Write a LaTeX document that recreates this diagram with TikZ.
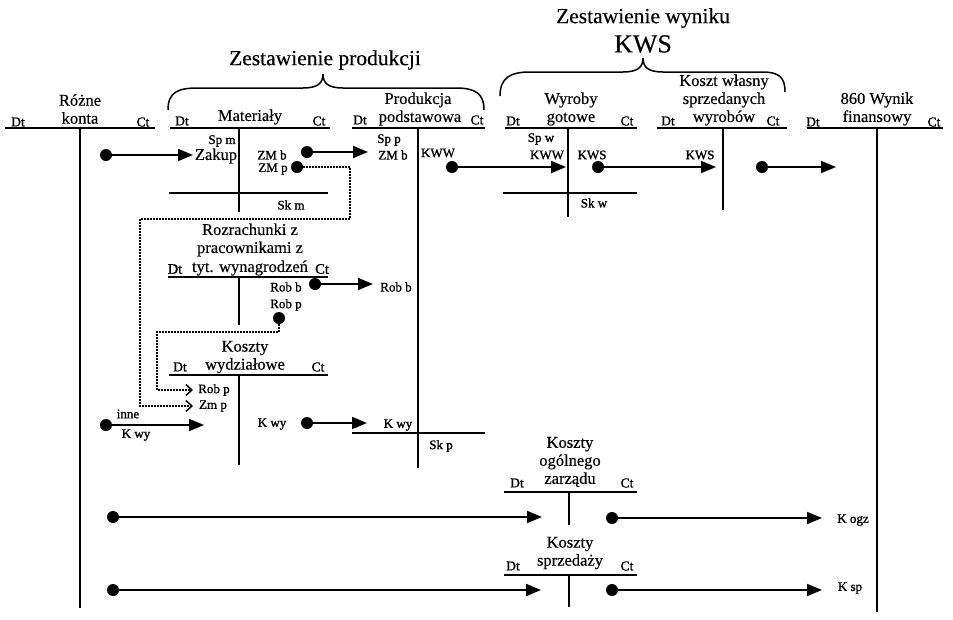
\documentclass[tikz,border=0pt]{standalone}
\usepackage{fontspec}
\setmainfont{Liberation Serif}[FakeBold=0.3]
\newfontfamily\lblfont{Liberation Serif}[FakeBold=1.2]
\usetikzlibrary{arrows.meta}
\begin{document}
\begin{tikzpicture}[x=1pt,y=-1pt,
  tline/.style={line width=2.4pt},
  skline/.style={line width=1.4pt},
  flow/.style={line width=1.8pt,-{Triangle[length=15pt,width=12pt]}},
  dflow/.style={line width=1.5pt,dash pattern=on 1.5pt off 1.5pt,
    -{Straight Barb[length=6pt,width=11pt,line width=1.5pt]}},
  dot/.style={circle,fill,inner sep=0pt,minimum size=12pt},
  dc/.style={font=\lblfont\fontsize{13.5}{14}\selectfont,inner sep=0pt},
  sm/.style={font=\lblfont\fontsize{13}{14}\selectfont,inner sep=0pt},
  md/.style={font=\fontsize{16.5}{18}\selectfont,inner sep=0pt,align=center},
  lg/.style={font=\fontsize{21.5}{26}\selectfont,inner sep=0pt,align=center},
  brace/.style={line width=1.5pt}
]
\useasboundingbox (0,0) rectangle (953,619);

% ---------- group headings and braces ----------
\node[lg] (zprod) at (325,60) {Zestawienie produkcji};
\draw[brace] (168,110) .. controls (168,92) and (178,88) .. (198,88)
  -- (303,88) .. controls (318,88) and (323,83) .. (323,74)
  .. controls (323,83) and (328,88) .. (343,88)
  -- (456,88) .. controls (476,88) and (484,94) .. (484,110);

\node[lg] (zwyn) at (643,18) {Zestawienie wyniku};
\node[font=\fontsize{26}{28}\selectfont,inner sep=0pt] (kwshead) at (643,44) {KWS};
\draw[brace] (500,96) .. controls (500,78) and (510,72) .. (530,72)
  -- (623,72) .. controls (638,72) and (643,67) .. (643,58)
  .. controls (643,67) and (648,72) .. (663,72)
  -- (762,72) .. controls (780,72) and (785,78) .. (785,92);

% ---------- T-accounts ----------
% Rozne konta
\draw[tline] (5,128) -- (155,128);
\draw[tline] (80,128) -- (80,608);
\node[md] (rk) at (80,109) {Różne\\konta};
\node[dc] at (18,122) {Dt};
\node[dc] at (143,122) {Ct};

% Materialy
\draw[tline] (170,128) -- (330,128);
\draw[tline] (239,128) -- (239,212);
\draw[skline] (169,193) -- (328,193);
\node[md] (mat) at (250,117) {Materiały};
\node[dc] at (182,121) {Dt};
\node[dc] at (319,121) {Ct};
\node[sm] at (222,141) {Sp m};
\node[md] at (216,156) {Zakup};
\node[sm] at (272,155) {ZM b};
\node[sm] at (273,169) {ZM p};
\node[sm] at (291,205) {Sk m};

% Produkcja podstawowa
\draw[tline] (352,128) -- (485,128);
\draw[tline] (418,128) -- (418,468);
\draw[skline] (352,433) -- (485,433);
\node[md] (prod) at (418,100) {Produkcja};
\node[md] at (420,118) {podstawowa};
\node[dc] at (360,120) {Dt};
\node[dc] at (477,120) {Ct};
\node[sm] at (389,140) {Sp p};
\node[sm] at (393,155) {ZM b};
\node[sm] at (438,153) {KWW};
\node[sm] at (398,425) {K wy};
\node[sm] at (441,446) {Sk p};

% Wyroby gotowe
\draw[tline] (505,128) -- (637,128);
\draw[tline] (568,128) -- (568,217);
\draw[skline] (503,193) -- (637,193);
\node[md] (wyr) at (571,109) {Wyroby\\gotowe};
\node[dc] at (513,121) {Dt};
\node[dc] at (627,121) {Ct};
\node[sm] at (541,139) {Sp w};
\node[sm] at (547,155) {KWW};
\node[sm] at (592,155) {KWS};
\node[sm] at (594,203) {Sk w};

% Koszt wlasny sprzedanych wyrobow
\draw[tline] (657,128) -- (787,128);
\draw[tline] (723,128) -- (723,210);
\node[md] (kws) at (724,100) {Koszt własny\\sprzedanych\\wyrobów};
\node[dc] at (668,121) {Dt};
\node[dc] at (773,121) {Ct};
\node[sm] at (700,155) {KWS};

% 860 Wynik finansowy
\draw[tline] (807,128) -- (943,128);
\draw[tline] (877,128) -- (877,612);
\node[md] (wf) at (877,109) {860 Wynik\\finansowy};
\node[dc] at (813,122) {Dt};
\node[dc] at (934,122) {Ct};
\node[sm] at (853,520) {K ogz};
\node[sm] at (850,588) {K sp};

% Rozrachunki z pracownikami
\draw[tline] (168,277) -- (328,277);
\draw[tline] (239,277) -- (239,325);
\node[md] (rozr) at (250,240) {Rozrachunki z\\pracownikami z};
\node[md] at (250,268) {tyt. wynagrodzeń};
\node[dc,font=\lblfont\fontsize{14.5}{15}\selectfont] at (175,269) {Dt};
\node[dc,font=\lblfont\fontsize{14.5}{15}\selectfont] at (322,269) {Ct};
\node[sm] at (286,287) {Rob b};
\node[sm] at (286,305) {Rob p};
\node[sm] at (396,287) {Rob b};

% Koszty wydzialowe
\draw[tline] (169,375) -- (328,375);
\draw[tline] (239,375) -- (239,465);
\node[md] (kwyd) at (245,357) {Koszty\\wydziałowe};
\node[dc] at (180,367) {Dt};
\node[dc] at (318,367) {Ct};
\node[sm] at (214,390) {Rob p};
\node[sm] at (213,406) {Zm p};
\node[sm] at (128,414) {inne};
\node[sm] at (136,435) {K wy};
\node[sm] at (272,424) {K wy};

% Koszty ogolnego zarzadu
\draw[tline] (504,492) -- (637,492);
\draw[tline] (569,492) -- (569,525);
\node[md] (koz) at (570,462) {Koszty\\ogólnego\\zarządu};
\node[dc] at (517,483) {Dt};
\node[dc] at (627,483) {Ct};

% Koszty sprzedazy
\draw[tline] (504,575) -- (637,575);
\draw[tline] (569,575) -- (569,607);
\node[md] (ksp) at (570,553) {Koszty\\sprzedaży};
\node[dc] at (513,566) {Dt};
\node[dc] at (627,566) {Ct};

% ---------- flows ----------
\node[dot] (d1) at (106,155) {};  \coordinate (e1) at (193,155);
\node[dot] (d2) at (307,152) {};  \coordinate (e2) at (368,152);
\node[dot] (d3) at (297,167) {};
\node[dot] (d4) at (452,167) {};  \coordinate (e4) at (566,167);
\node[dot] (d5) at (598,167) {};  \coordinate (e5) at (716,167);
\node[dot] (d6) at (762,167) {};  \coordinate (e6) at (836,167);
\node[dot] (d7) at (315,284) {};  \coordinate (e7) at (373,284);
\node[dot] (d8) at (279,318) {};
\node[dot] (d9) at (106,425) {};  \coordinate (e9) at (204,425);
\node[dot] (d10) at (307,423) {}; \coordinate (e10) at (367,423);
\node[dot] (d11) at (113,517) {}; \coordinate (e11) at (542,517);
\node[dot] (d12) at (612,518) {}; \coordinate (e12) at (822,518);
\node[dot] (d13) at (113,590) {}; \coordinate (e13) at (541,590);
\node[dot] (d14) at (612,590) {}; \coordinate (e14) at (822,590);

\foreach \i in {1,2,4,5,6,7,9,10,11,12,13,14}
  \draw[flow] (d\i) -- (e\i);

% dotted transfers of material and wages to departmental costs
\coordinate (zm1) at (350,219);
\coordinate (zm2) at (140,406);
\coordinate (zm3) at (193,406);
\draw[dflow] (d3) -| (zm1) -| (zm2) -- (zm3);

\coordinate (rp1) at (157,332);
\coordinate (rp2) at (193,390);
\draw[dflow] (d8) |- (rp1) |- (rp2);
\end{tikzpicture}
\end{document}
